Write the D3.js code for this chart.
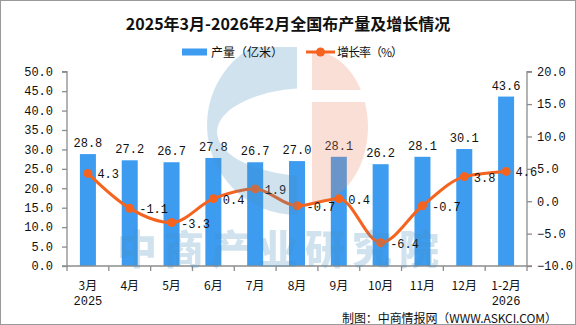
<!DOCTYPE html>
<html><head><meta charset="utf-8">
<script src="https://cdn.jsdelivr.net/npm/d3@7"></script>
<style>
html,body{margin:0;padding:0;background:#fff;}
svg{display:block;}
text{font-family:"Liberation Mono","DejaVu Sans Mono",monospace;}
.cjk{font-family:"Noto Sans CJK SC",sans-serif;}
</style></head>
<body>
<svg id="chart" width="576" height="325"></svg>
<script>
const titleText = "2025年3月-2026年2月全国布产量及增长情况";
const categories = ["3月","4月","5月","6月","7月","8月","9月","10月","11月","12月","1-2月"];
const yearLabels = ["2025","","","","","","","","","","2026"];
const production = [28.8,27.2,26.7,27.8,26.7,27.0,28.1,26.2,28.1,30.1,43.6];
const growth = [4.3,-1.1,-3.3,0.4,1.9,-0.7,0.4,-6.4,-0.7,3.8,4.6];
const leftTicks = [0,5,10,15,20,25,30,35,40,45,50];
const rightTicks = [-10,-5,0,5,10,15,20];
const seriesNames = ["产量（亿米）","增长率（%）"];
const sourceText = "制图：中商情报网（WWW.ASKCI.COM）";
const watermarkText = "中商产业研究院";

const W=576,H=325;
const barColor="#3d9cf0", lineColor="#f5631f", axisColor="#8c8c8c";
const m={l:67,r:527,t:71.7,b:266};
const svg=d3.select("#chart");

svg.append("rect").attr("x",0.5).attr("y",0.5).attr("width",W-1).attr("height",H-1)
  .attr("fill","#fff").attr("stroke","#9a9a9a");

const x=d3.scaleBand().domain(categories).range([m.l,m.r]).paddingInner(0).paddingOuter(0);
const yL=d3.scaleLinear().domain([0,50]).range([m.b,m.t]);
const yR=d3.scaleLinear().domain([-10,20]).range([m.b,m.t]);
const bw=16;

// bars
svg.append("g").selectAll("rect").data(production).join("rect")
  .attr("x",(d,i)=>x(categories[i])+x.bandwidth()/2-bw/2)
  .attr("y",d=>yL(d)).attr("width",bw).attr("height",d=>yL(0)-yL(d))
  .attr("fill",barColor);

// axes
const axL=svg.append("g").attr("transform",`translate(${m.l},0)`)
  .call(d3.axisLeft(yL).tickValues(leftTicks).tickFormat(d3.format(".1f")).tickSize(5).tickPadding(9));
const axR=svg.append("g").attr("transform",`translate(${m.r},0)`)
  .call(d3.axisRight(yR).tickValues(rightTicks).tickFormat(d3.format(".1f")).tickSize(5).tickPadding(5));
[axL,axR].forEach(a=>{
  a.select(".domain").attr("stroke",axisColor).attr("stroke-width",1.3);
  a.selectAll(".tick line").attr("stroke",axisColor).attr("stroke-width",1.3);
  a.selectAll(".tick text").attr("fill","#111").style("font-size","12px").style("font-family","Liberation Mono");
});
axR.select(".domain").attr("d",`M5,${m.t}H0V${m.b}H5`);
axL.select(".domain").attr("d",`M-5,${m.t}H0V${m.b}H-5`);

// x axis
const gx=svg.append("g");
gx.append("line").attr("x1",m.l).attr("x2",m.r).attr("y1",m.b).attr("y2",m.b)
  .attr("stroke",axisColor).attr("stroke-width",1.3);
const bounds=categories.map(c=>x(c)).concat([m.r]);
gx.selectAll("line.t").data(bounds).join("line").attr("class","t")
  .attr("x1",d=>d).attr("x2",d=>d).attr("y1",m.b).attr("y2",m.b+5)
  .attr("stroke",axisColor).attr("stroke-width",1.3);
gx.selectAll("text.c").data(categories).join("text").attr("class","c cjk")
  .attr("x",d=>x(d)+x.bandwidth()/2).attr("y",289.5).attr("text-anchor","middle")
  .style("font-size","12px").attr("fill","#111").text(d=>d);
gx.selectAll("text.yr").data(yearLabels).join("text").attr("class","yr")
  .attr("x",(d,i)=>x(categories[i])+x.bandwidth()/2).attr("y",304.5).attr("text-anchor","middle")
  .style("font-size","12px").attr("fill","#111").text(d=>d);

// bar labels
svg.append("g").selectAll("text").data(production).join("text")
  .attr("x",(d,i)=>x(categories[i])+x.bandwidth()/2).attr("y",d=>yL(d)-7)
  .attr("text-anchor","middle").style("font-size","12px").attr("fill","#111")
  .text(d=>d.toFixed(1));

// line
const cx=(i)=>x(categories[i])+x.bandwidth()/2;
const line=d3.line().x((d,i)=>cx(i)).y(d=>yR(d)).curve(d3.curveMonotoneX);
svg.append("path").datum(growth).attr("d",line).attr("fill","none")
  .attr("stroke",lineColor).attr("stroke-width",3);
svg.append("g").selectAll("circle").data(growth).join("circle")
  .attr("cx",(d,i)=>cx(i)).attr("cy",d=>yR(d)).attr("r",4.5).attr("fill",lineColor);
svg.append("g").selectAll("text").data(growth).join("text")
  .attr("x",(d,i)=>cx(i)+9.5).attr("y",d=>yR(d)+5)
  .style("font-size","12px").attr("fill","#111").text(d=>d.toFixed(1));

// watermark (drawn on top, translucent)
const wm=svg.append("g").attr("opacity",0.25);
const defs=svg.append("defs");
defs.append("clipPath").attr("id","clipL").append("rect").attr("x",0).attr("y",47).attr("width",297).attr("height",200);
defs.append("clipPath").attr("id","clipR").append("rect").attr("x",312).attr("y",47).attr("width",200).attr("height",200);
const mask=defs.append("mask").attr("id","cmask");
mask.append("rect").attr("x",0).attr("y",0).attr("width",W).attr("height",H).attr("fill","#fff");
mask.append("ellipse").attr("cx",312).attr("cy",132).attr("rx",95).attr("ry",44).attr("fill","#000");
wm.append("circle").attr("cx",297).attr("cy",125).attr("r",90)
  .attr("fill","rgb(67,143,191)").attr("clip-path","url(#clipL)").attr("mask","url(#cmask)");
const omask=defs.append("mask").attr("id","omask");
omask.append("rect").attr("x",0).attr("y",0).attr("width",W).attr("height",H).attr("fill","#fff");
omask.append("rect").attr("x",300).attr("y",90).attr("width",80).attr("height",12).attr("fill","#000");
wm.append("ellipse").attr("cx",312).attr("cy",127).attr("rx",56).attr("ry",76)
  .attr("fill","rgb(235,131,91)").attr("clip-path","url(#clipR)").attr("mask","url(#omask)");
svg.append("text").attr("class","cjk").attr("x",117).attr("y",264)
  .style("font-size","40px").style("font-weight","900").style("letter-spacing","7px")
  .attr("fill","rgb(67,143,191)").attr("opacity",0.25).text(watermarkText);

// title
svg.append("text").attr("class","cjk").attr("x",288).attr("y",30).attr("text-anchor","middle")
  .style("font-size","16px").style("font-weight","bold").attr("fill","#111").text(titleText);

// legend
svg.append("rect").attr("x",182).attr("y",48.5).attr("width",25).attr("height",7).attr("fill",barColor);
svg.append("text").attr("class","cjk").attr("x",211).attr("y",56.5).style("font-size","12px").attr("fill","#111")
  .attr("textLength",72).attr("lengthAdjust","spacing").text(seriesNames[0]);
svg.append("line").attr("x1",306).attr("x2",335).attr("y1",52).attr("y2",52).attr("stroke",lineColor).attr("stroke-width",3);
svg.append("circle").attr("cx",320.5).attr("cy",52).attr("r",4.5).attr("fill",lineColor);
svg.append("text").attr("class","cjk").attr("x",337).attr("y",56.5).style("font-size","12px").attr("fill","#111")
  .attr("textLength",66).attr("lengthAdjust","spacing").text(seriesNames[1]);

// source
svg.append("text").attr("class","cjk").attr("x",342).attr("y",323)
  .style("font-size","12px").attr("fill","#111")
  .attr("textLength",215).attr("lengthAdjust","spacing").text(sourceText);
</script>
</body></html>
